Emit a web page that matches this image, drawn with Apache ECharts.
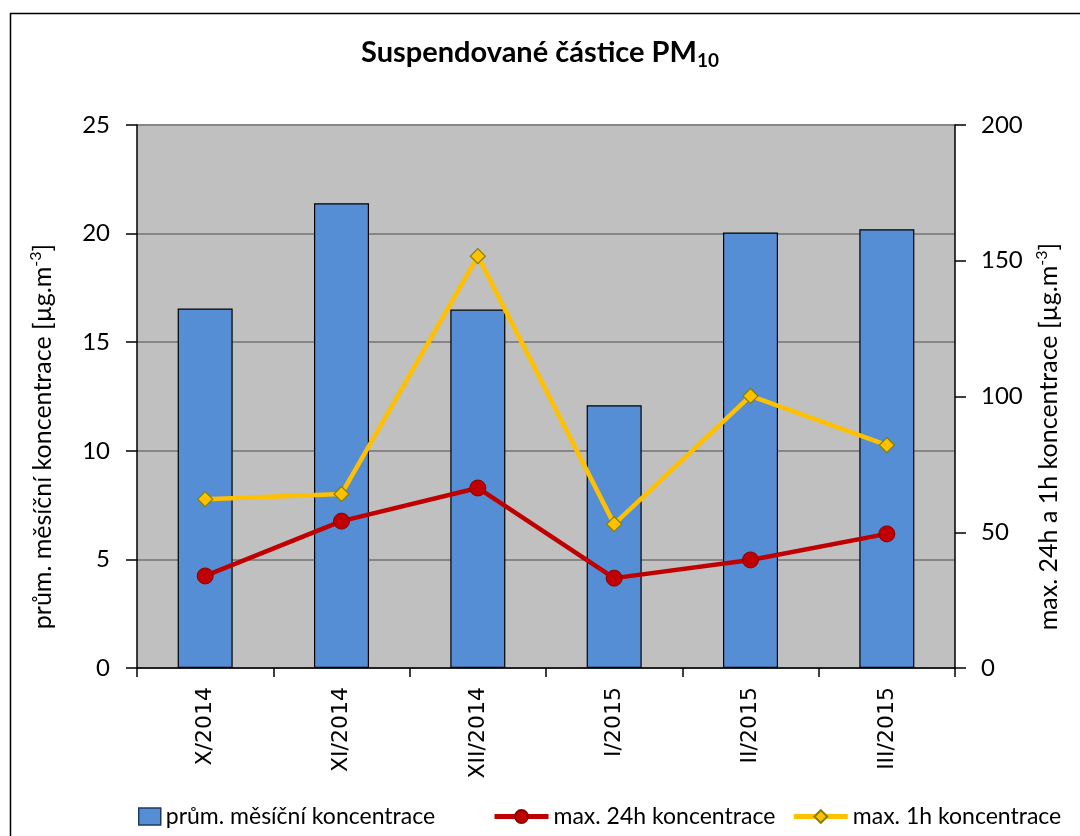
<!DOCTYPE html>
<html><head><meta charset="utf-8">
<script src="https://cdn.jsdelivr.net/npm/echarts@6/dist/echarts.min.js"></script>
<style>html,body{margin:0;padding:0;background:#fff}#c{width:1080px;height:836px}</style>
</head><body><div id="c"></div>
<script>
const categories = ['X/2014','XI/2014','XII/2014','I/2015','II/2015','III/2015'];
const monthlyMean = [16.55, 21.4, 16.5, 12.1, 20.05, 20.2];
const max24h = [33.9, 54.1, 66.3, 33.1, 39.8, 49.4];
const max1h = [62.2, 64.1, 151.7, 53.0, 100.2, 82.1];
const seriesNames = ['prům. měsíční koncentrace', 'max. 24h koncentrace', 'max. 1h koncentrace'];

const FONT = 'Lato, "Open Sans", sans-serif';
const nameRich = {
  t: {fontFamily: FONT, fontSize: 25, color: '#000'},
  e: {fontFamily: FONT, fontSize: 25, color: '#000', padding: [0, 80, 0, 0]},
  sup: {fontFamily: FONT, fontSize: 16, color: '#000', verticalAlign: 'top', padding: [0,0,14,0]}
};
const chart = echarts.init(document.getElementById('c'), null, {renderer:'canvas'});
chart.setOption({
  backgroundColor: '#fff',
  animation: false,
  graphic: [{type:'rect', left:8, top:11, shape:{width:1200, height:1000}, style:{fill:'none', stroke:'#000', lineWidth:1.5}, z:-1}],
  title: {
    text: '{t|Suspendované částice PM}{sub|10}',
    left: 'center', top: 30,
    textStyle: {
      rich: {
        t: {fontFamily: FONT, fontSize: 29, fontWeight: 'bold', color: '#000'},
        sub: {fontFamily: FONT, fontSize: 19, fontWeight: 'bold', color: '#000', verticalAlign: 'bottom', padding: [16,0,0,0]}
      }
    }
  },
  legend: [{
    data: [{name: seriesNames[0], icon: 'rect'}], left: 133, top: 800, itemWidth: 22, itemHeight: 17, itemGap: 4,
    itemStyle: {borderColor: '#1F3864', borderWidth: 1.5},
    textStyle: {fontFamily: FONT, fontSize: 23, color: '#000'}
  },{
    data: [seriesNames[1], seriesNames[2]],
    left: 487, top: 800, width: 590, itemWidth: 54, itemHeight: 16, itemGap: 16,
    lineStyle: {width: 5},
    textStyle: {fontFamily: FONT, fontSize: 23, color: '#000'}
  }],
  grid: {left: 137, right: 125, top: 125, bottom: 168, show: true, backgroundColor: '#C0C0C0', borderWidth: 0},
  xAxis: {
    type: 'category', data: categories, boundaryGap: true,
    axisLine: {lineStyle: {color: '#000', width: 1.5}},
    axisTick: {show: true, alignWithLabel: false, length: 9, lineStyle: {color: '#000', width: 1.5}},
    axisLabel: {rotate: 90, fontFamily: '"DejaVu Sans", sans-serif', fontSize: 22, color: '#000', margin: 19}
  },
  yAxis: [{
    type: 'value', min: 0, max: 25, interval: 5, position: 'left',
    name: '{t|prům. měsíční koncentrace [µg.m}{sup|-3}{e|]}', nameLocation: 'middle', nameGap: 79, nameRotate: 90,
    nameTextStyle: {rich: nameRich},
    axisLine: {show: true, lineStyle: {color: '#000', width: 1.5}},
    axisTick: {show: true, length: 11, lineStyle: {color: '#000', width: 1.5}},
    axisLabel: {fontFamily: FONT, fontSize: 24, color: '#000', margin: 27},
    splitLine: {show: true, lineStyle: {color: '#868686', width: 2}}
  },{
    type: 'value', min: 0, max: 200, interval: 50, position: 'right',
    name: '{t|max. 24h a 1h koncentrace [µg.m}{sup|-3}{e|]}', nameLocation: 'middle', nameGap: 79, nameRotate: 90,
    nameTextStyle: {rich: nameRich},
    axisLine: {show: true, lineStyle: {color: '#000', width: 1.5}},
    axisTick: {show: true, length: 11, lineStyle: {color: '#000', width: 1.5}},
    axisLabel: {fontFamily: FONT, fontSize: 24, color: '#000', margin: 26},
    splitLine: {show: false}
  }],
  series: [{
    name: seriesNames[0], type: 'bar', data: monthlyMean, yAxisIndex: 0, barWidth: 55,
    itemStyle: {color: '#558ED5', borderColor: '#000', borderWidth: 1.2}
  },{
    name: seriesNames[1], type: 'line', data: max24h, yAxisIndex: 1,
    symbol: 'circle', symbolSize: 16,
    lineStyle: {color: '#C00000', width: 4.5},
    itemStyle: {color: '#C00000', borderColor: '#8B0000', borderWidth: 1}
  },{
    name: seriesNames[2], type: 'line', data: max1h, yAxisIndex: 1,
    symbol: 'diamond', symbolSize: 15,
    lineStyle: {color: '#FFC000', width: 4.5},
    itemStyle: {color: '#FFC000', borderColor: '#808000', borderWidth: 1.2}
  }]
});
</script></body></html>
